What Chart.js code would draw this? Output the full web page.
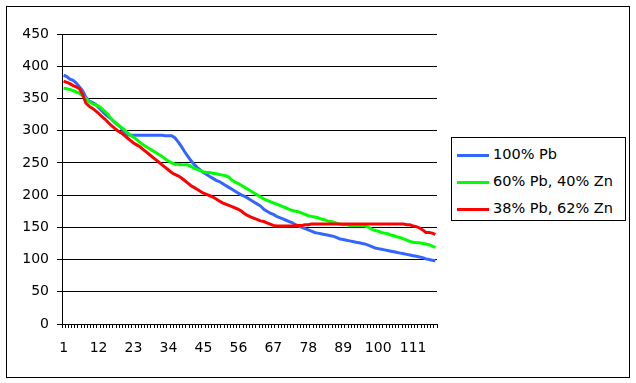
<!DOCTYPE html>
<html>
<head>
<meta charset="utf-8">
<script src="https://cdn.jsdelivr.net/npm/chart.js@4.4.1/dist/chart.umd.min.js"></script>
<style>
  html, body { margin: 0; padding: 0; background: #fff; }
  #wrap { position: relative; width: 636px; height: 383px; }
  #chart { position: absolute; left: 0; top: 0; }
  #frame { position: absolute; left: 6px; top: 6px; width: 624px; height: 372px;
           box-sizing: border-box; border: 1px solid #000; pointer-events: none; }
  #legend { position: absolute; left: 451px; top: 137px; width: 175px; height: 84px;
            box-sizing: border-box; border: 1px solid #000; background: #fff;
            font: 14.5px "DejaVu Sans", sans-serif; color: #000; }
  .item { position: absolute; left: 5px; height: 16px; line-height: 16px; white-space: nowrap; }
  .swatch { display: inline-block; width: 32px; height: 3px; vertical-align: middle; margin-right: 4px; }
</style>
</head>
<body>
<div id="wrap">
  <canvas id="chart" width="636" height="383"></canvas>
  <div id="frame"></div>
  <div id="legend"></div>
</div>
<script>
// category numbers 1..118, every 11th one is labelled
const categories = Array.from({ length: 118 }, (_, i) => String(i + 1));
const labelStep = 11;
const yTicks = { min: 0, max: 450, step: 50 };

const seriesNames = ['100% Pb', '60% Pb, 40% Zn', '38% Pb, 62% Zn'];
const seriesColors = ['#3366ff', '#00ff00', '#ff0000'];

const pb100 = [
  386, 384, 380, 378, 374, 368, 362, 352, 346, 344,
  341, 336, 331, 326, 322, 318, 313, 309, 305, 298,
  294, 293, 293, 293, 293, 293, 293, 293, 293, 293,
  293, 293, 292, 292, 292, 289, 283, 276, 268, 261,
  254, 248, 243, 239, 235, 232, 229, 226, 223, 221,
  218, 215, 212, 209, 206, 203, 200, 198, 195, 192,
  189, 186, 183, 178, 175, 172, 170, 167, 165, 163,
  161, 159, 157, 154, 152, 150, 148, 146, 144, 142,
  141, 140, 139, 138, 137, 136, 134, 132, 131, 130,
  129, 128, 127, 126, 125, 124, 122, 120, 118, 117,
  116, 115, 114, 113, 112, 111, 110, 109, 108, 107,
  106, 105, 104, 103, 101, 100, 99, 98
];

const pb60zn40 = [
  366, 365, 364, 362, 360, 358, 354, 350, 345, 342,
  340, 338, 334, 330, 325, 318, 314, 310, 306, 302,
  297, 293, 290, 286, 282, 278, 275, 272, 269, 266,
  263, 260, 256, 253, 250, 248, 248, 247, 247, 247,
  245, 242, 240, 238, 236, 235, 235, 234, 233, 232,
  231, 230, 228, 223, 220, 218, 215, 212, 209, 206,
  203, 200, 197, 194, 192, 190, 188, 186, 184, 182,
  180, 178, 176, 175, 174, 172, 170, 168, 167, 166,
  165, 163, 162, 160, 159, 158, 156, 155, 154, 154,
  153, 153, 153, 153, 153, 152, 150, 147, 145, 144,
  142, 141, 140, 138, 137, 135, 134, 132, 130, 128,
  127, 126, 126, 125, 124, 123, 121, 119
];

const pb38zn62 = [
  377, 375, 373, 370, 368, 365, 356, 343, 338, 335,
  331, 327, 322, 318, 313, 308, 304, 300, 297, 293,
  289, 285, 281, 278, 275, 271, 267, 263, 259, 255,
  251, 247, 243, 239, 235, 232, 230, 227, 223, 219,
  215, 212, 209, 206, 203, 201, 199, 197, 194, 191,
  188, 186, 184, 182, 180, 178, 175, 171, 168, 166,
  164, 162, 160, 159, 157, 155, 153, 152, 152, 152,
  152, 152, 152, 153, 153, 153, 154, 154, 155, 155,
  155, 155, 155, 155, 155, 155, 155, 155, 155, 155,
  155, 155, 155, 155, 155, 155, 155, 155, 155, 155,
  155, 155, 155, 155, 155, 155, 155, 155, 154, 154,
  152, 151, 149, 146, 142, 142, 141, 139
];

const seriesData = [pb100, pb60zn40, pb38zn62];

const font = { family: 'DejaVu Sans', size: 14 };

const chart = new Chart(document.getElementById('chart'), {
    type: 'line',
    data: {
        labels: categories,
        datasets: seriesData.map((values, i) => ({
            label: seriesNames[i],
            data: values,
            borderColor: seriesColors[i],
            backgroundColor: seriesColors[i],
            order: seriesData.length - i   // later series drawn on top, like the original
        }))
    },
    options: {
        responsive: false,
        animation: false,
        layout: { padding: { left: 0, right: 199, top: 34, bottom: 0 } },
        plugins: {
            legend: { display: false },
            tooltip: { enabled: false }
        },
        elements: {
            point: { radius: 0 },
            line: { borderWidth: 3, tension: 0 }
        },
        scales: {
            x: {
                offset: true,
                grid: { offset: true, drawOnChartArea: false, color: '#000', tickLength: 4 },
                border: { color: '#000' },
                ticks: {
                    autoSkip: false,
                    maxRotation: 0,
                    color: '#000',
                    font: font,
                    padding: 12,
                    callback: (value, index) => index % labelStep === 0 ? categories[index] : ''
                },
                afterFit: scale => { scale.height = 59; }
            },
            y: {
                min: yTicks.min,
                max: yTicks.max,
                ticks: { stepSize: yTicks.step, color: '#000', font: font, padding: 8 },
                grid: { color: '#000', tickLength: 5 },
                border: { color: '#000' },
                afterFit: scale => { scale.width = 62; }
            }
        }
    }
});

// legend as html, built from the datasets
const legendEl = document.getElementById('legend');
chart.data.datasets.forEach((ds, i) => {
    const item = document.createElement('div');
    item.className = 'item';
    item.style.top = (8 + i * 27) + 'px';
    const sw = document.createElement('span');
    sw.className = 'swatch';
    sw.style.background = ds.borderColor;
    item.appendChild(sw);
    item.appendChild(document.createTextNode(ds.label));
    legendEl.appendChild(item);
});
</script>
</body>
</html>
